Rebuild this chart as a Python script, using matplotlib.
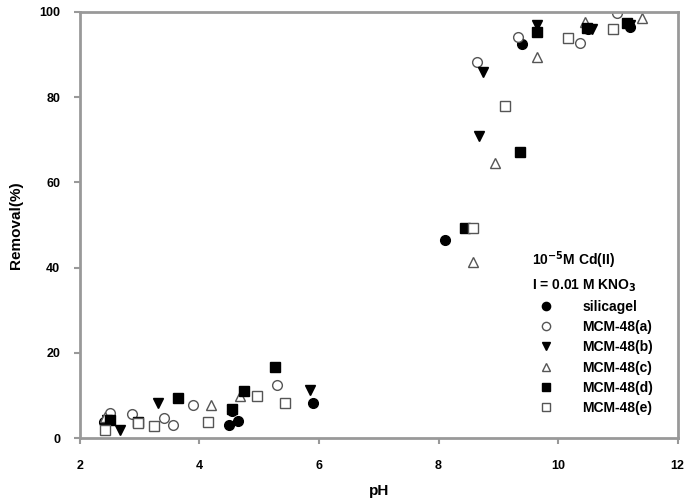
import matplotlib.pyplot as plt

plt.rcParams['font.family'] = ['Liberation Sans', 'DejaVu Sans']
plt.rcParams['font.weight'] = 'bold'

# pH / removal (%) per sorbent
sil_x = [2.4, 4.5, 4.65, 4.55, 5.9, 8.1, 9.4, 10.5, 11.2]
sil_y = [3.8, 3.0, 4.0, 6.5, 8.2, 46.5, 92.5, 96.0, 96.5]

a_x = [2.5, 2.87, 3.4, 3.56, 3.9, 5.3, 8.64, 9.33, 10.36, 10.98]
a_y = [5.9, 5.6, 4.7, 3.2, 7.7, 12.4, 88.3, 94.1, 92.7, 99.8]

b_x = [2.45, 2.67, 3.3, 4.54, 5.85, 8.67, 8.74, 9.64, 10.56, 11.2]
b_y = [4.2, 1.9, 8.2, 6.6, 11.3, 70.9, 86.0, 97.0, 96.0, 97.0]

c_x = [2.42, 4.2, 4.68, 8.57, 8.94, 9.64, 10.45, 11.4]
c_y = [4.9, 7.7, 9.9, 41.3, 64.5, 89.4, 97.7, 98.6]

d_x = [2.5, 2.97, 3.64, 4.54, 4.74, 5.26, 8.44, 9.36, 9.64, 10.48, 11.15]
d_y = [4.2, 3.8, 9.4, 6.8, 11.0, 16.7, 49.3, 67.1, 95.3, 96.2, 97.4]

e_x = [2.42, 2.97, 3.24, 4.14, 4.96, 5.44, 8.57, 9.11, 10.16, 10.91]
e_y = [1.9, 3.5, 2.8, 3.8, 9.9, 8.2, 49.3, 78.0, 93.9, 96.0]

fig = plt.figure(figsize=(6.88, 4.98), dpi=100)
ax = fig.add_axes([0.116, 0.12, 0.869, 0.856])

ms = 7
ax.plot(sil_x, sil_y, 'o', color='black', ms=ms, label='silicagel')
ax.plot(a_x, a_y, 'o', mfc='white', mec='#555555', ms=ms, label='MCM-48(a)')
ax.plot(b_x, b_y, 'v', color='black', ms=ms, label='MCM-48(b)')
ax.plot(c_x, c_y, '^', mfc='white', mec='#555555', ms=ms, label='MCM-48(c)')
ax.plot(d_x, d_y, 's', color='black', ms=ms, label='MCM-48(d)')
ax.plot(e_x, e_y, 's', mfc='white', mec='#555555', ms=ms, label='MCM-48(e)')

ax.set_xlim(2, 12)
ax.set_ylim(0, 100)
ax.set_xticks(range(2, 13, 2))
ax.set_yticks(range(0, 101, 20))

for s in ax.spines.values():
    s.set_color('#999999')
    s.set_linewidth(2)
ax.tick_params(colors='#999999', labelcolor='black', labelsize=9, width=1.5, length=4)
ax.tick_params(axis='x', pad=12)
ax.tick_params(axis='y', pad=10)

ax.set_xlabel('pH', fontsize=11, fontweight='bold', labelpad=8)
ax.set_ylabel('Removal(%)', fontsize=11, fontweight='bold', labelpad=12)

leg = ax.legend(loc='lower right', bbox_to_anchor=(0.98, 0.025), frameon=False,
                fontsize=10, handletextpad=1.6, labelspacing=0.45,
                markerscale=0.85,
                title='10$^{-5}$M Cd(II)\nI = 0.01 M KNO$_3$',
                title_fontsize=10, alignment='left')
leg.get_title().set_fontweight('bold')
leg.get_title().set_linespacing(1.5)

fig.savefig('out.png', dpi=100)
